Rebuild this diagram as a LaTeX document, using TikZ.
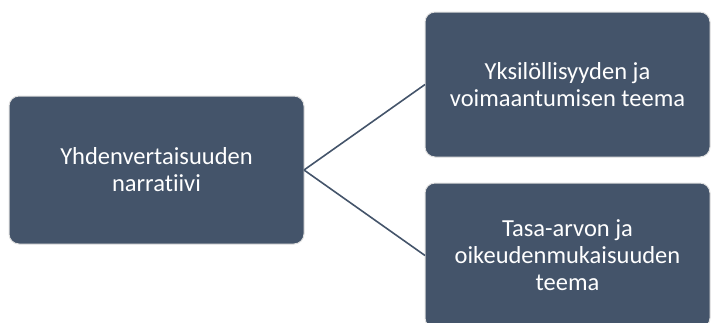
\documentclass[tikz,border=0pt]{standalone}
\usepackage{fontspec}
\setmainfont{Carlito}[Ligatures={NoCommon,NoDiscretionary}]
\definecolor{slate}{HTML}{44546A}
\begin{document}
\begin{tikzpicture}[
    x=1pt,y=-1pt,
    box/.style={draw=black!12,line width=1pt,fill=slate,rounded corners=10pt,
        text=white,align=center,font=\fontsize{24.5}{27}\selectfont,
        inner sep=0pt,outer sep=0pt},
    link/.style={draw=slate,line width=1.6pt}
]
\useasboundingbox (0,0) rectangle (711,322);
\clip (0,0) rectangle (711,322);
\node[box,minimum width=295pt,minimum height=148pt] (narr) at (156.5,170) {Yhdenvertaisuuden\\narratiivi};
\node[box,minimum width=285pt,minimum height=145pt] (yksil) at (567.5,84.5) {Yksilöllisyyden ja\\voimaantumisen teema};
\node[box,minimum width=285pt,minimum height=145pt] (tasa) at (567.5,255.5) {Tasa-arvon ja\\oikeudenmukaisuuden\\teema};

\draw[link] (narr.east)--(yksil.west);
\draw[link] (narr.east)--(tasa.west);
\end{tikzpicture}
\end{document}
